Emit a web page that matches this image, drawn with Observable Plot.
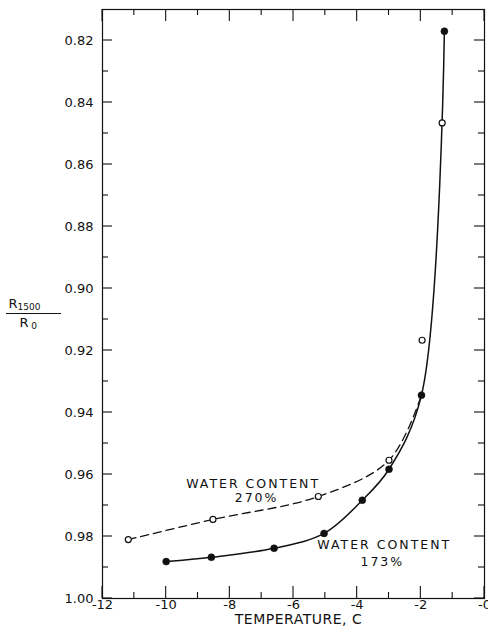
<!DOCTYPE html>
<html><head><meta charset="utf-8">
<script src="https://cdn.jsdelivr.net/npm/d3@7"></script>
<script src="https://cdn.jsdelivr.net/npm/@observablehq/plot@0.6"></script>
<style>
body{margin:0;background:#fff;}
#wrap{width:488px;height:636px;overflow:hidden;}
</style></head><body>
<div id="wrap"></div>
<script>
// Water content 173% (filled circles, solid curve)
const filledX = [-10.0, -8.58, -6.61, -5.04, -3.84, -3.0, -1.98, -1.26];
const filledY = [0.9881, 0.9867, 0.9838, 0.979, 0.9683, 0.9583, 0.9344, 0.817];
// Water content 270% (open circles)
const openX = [-11.19, -8.53, -5.22, -3.0, -1.96, -1.33];
const openY = [0.981, 0.9745, 0.9671, 0.9554, 0.9167, 0.8466];
// dashed curve for 270% (joins the solid curve near -2 C)
const dashedX = [-11.19, -8.53, -5.22, -3.0, -1.98];
const dashedY = [0.981, 0.9745, 0.9671, 0.9554, 0.9344];

const xMajor = [-12, -10, -8, -6, -4, -2, 0];
const xMinor = [-11, -9, -7, -5, -3, -1];
const xTickLabels = ["-12", "-10", "-8", "-6", "-4", "-2", "-0"];
const yMajor = [0.82, 0.84, 0.86, 0.88, 0.90, 0.92, 0.94, 0.96, 0.98, 1.00];
const yMinor = [0.83, 0.85, 0.87, 0.89, 0.91, 0.93, 0.95, 0.97, 0.99];
const yTickLabels = ["0.82", "0.84", "0.86", "0.88", "0.90", "0.92", "0.94", "0.96", "0.98", "1.00"];

const noteText = ["WATER CONTENT", "270%", "WATER CONTENT", "173%"];
const noteX = [-7.27, -7.16, -3.15, -3.21];
const noteY = [0.9645, 0.969, 0.9839, 0.9894];

const xLabel = "TEMPERATURE, C";

(() => {
  const filledPts = filledX.map((x, i) => ({x, y: filledY[i]}));
  const openPts = openX.map((x, i) => ({x, y: openY[i]}));
  const dashedPts = dashedX.map((x, i) => ({x, y: dashedY[i]}));
  const notes = noteText.map((t, i) => ({t, x: noteX[i], y: noteY[i]}));
  const xFmt = new Map(xMajor.map((v, i) => [v, xTickLabels[i]]));
  const yFmt = new Map(yMajor.map((v, i) => [v, yTickLabels[i]]));

  const ink = "#111";
  const W = 488, Ht = 636, mL = 102, mR = 4, mT = 9, mB = 38;

  const chart = Plot.plot({
    width: W,
    height: Ht,
    marginLeft: mL,
    marginRight: mR,
    marginTop: mT,
    marginBottom: mB,
    style: {fontFamily: "DejaVu Sans", fontSize: "13px", color: ink, background: "#fff"},
    x: {domain: [-12, 0]},
    y: {domain: [0.81, 1.0], reverse: true},
    marks: [
      Plot.frame({stroke: ink, strokeWidth: 1.2}),
      Plot.axisX(xMajor, {anchor: "bottom", tickSize: 0, tickPadding: 1, tickFormat: d => xFmt.get(d), label: null, fontSize: 13}),
      Plot.axisY(yMajor, {anchor: "left", tickSize: 0, tickPadding: 9, tickFormat: d => yFmt.get(d), label: null, fontSize: 13}),
      Plot.text([xLabel], {frameAnchor: "bottom", dy: 25, dx: 5, text: d => d, fontSize: 14, fill: ink}),
      Plot.line(dashedPts, {x: "x", y: "y", curve: "catmull-rom", stroke: ink, strokeWidth: 1.3, strokeDasharray: "8,5"}),
      Plot.line(filledPts, {x: "x", y: "y", curve: "catmull-rom", stroke: ink, strokeWidth: 1.5}),
      Plot.dot(filledPts, {x: "x", y: "y", r: 3.5, fill: ink, stroke: ink, strokeWidth: 0.5}),
      Plot.dot(openPts, {x: "x", y: "y", r: 3, fill: "white", stroke: ink, strokeWidth: 1.2}),
      Plot.text(notes, {x: "x", y: "y", text: "t", lineAnchor: "bottom", textAnchor: "middle", fontSize: 12.5, fill: ink})
    ]
  });

  const svg = d3.select(chart);
  svg.selectAll("text").filter(function() {
    return noteText.includes(this.textContent);
  }).attr("letter-spacing", "2px");
  svg.selectAll("text").filter(function() { return this.textContent === xLabel; }).attr("letter-spacing", "0.5px");

  // inward ticks on all four sides, positioned with the chart's own scales
  const sx = chart.scale("x"), sy = chart.scale("y");
  const fL = mL, fR = W - mR, fT = mT, fB = Ht - mB;
  const tg = svg.append("g").attr("stroke", ink).attr("stroke-width", 1.1);
  function xt(vals, len) {
    vals.forEach(v => {
      const px = sx.apply(v);
      tg.append("line").attr("x1", px).attr("x2", px).attr("y1", fB).attr("y2", fB - len);
      tg.append("line").attr("x1", px).attr("x2", px).attr("y1", fT).attr("y2", fT + len);
    });
  }
  function yt(vals, len) {
    vals.forEach(v => {
      const py = sy.apply(v);
      tg.append("line").attr("y1", py).attr("y2", py).attr("x1", fL).attr("x2", fL + len);
      tg.append("line").attr("y1", py).attr("y2", py).attr("x1", fR).attr("x2", fR - len);
    });
  }
  xt(xMajor, 12); xt(xMinor, 6); yt(yMajor, 10); yt(yMinor, 6);

  // y-axis label as a fraction R1500 / R0
  const g = svg.append("g").attr("fill", ink).attr("font-family", "DejaVu Sans");
  g.append("text").attr("x", 13).attr("y", 308).attr("font-size", 13).text("R");
  g.append("text").attr("x", 29).attr("y", 310).attr("font-size", 9).text("1500");
  g.append("line").attr("x1", 6).attr("x2", 61).attr("y1", 313.5).attr("y2", 313.5).attr("stroke", ink).attr("stroke-width", 1);
  g.append("text").attr("x", 24).attr("y", 327).attr("font-size", 13).text("R");
  g.append("text").attr("x", 34).attr("y", 329).attr("font-size", 9).text("0");

  document.getElementById("wrap").appendChild(chart);
})();
</script>
</body></html>
